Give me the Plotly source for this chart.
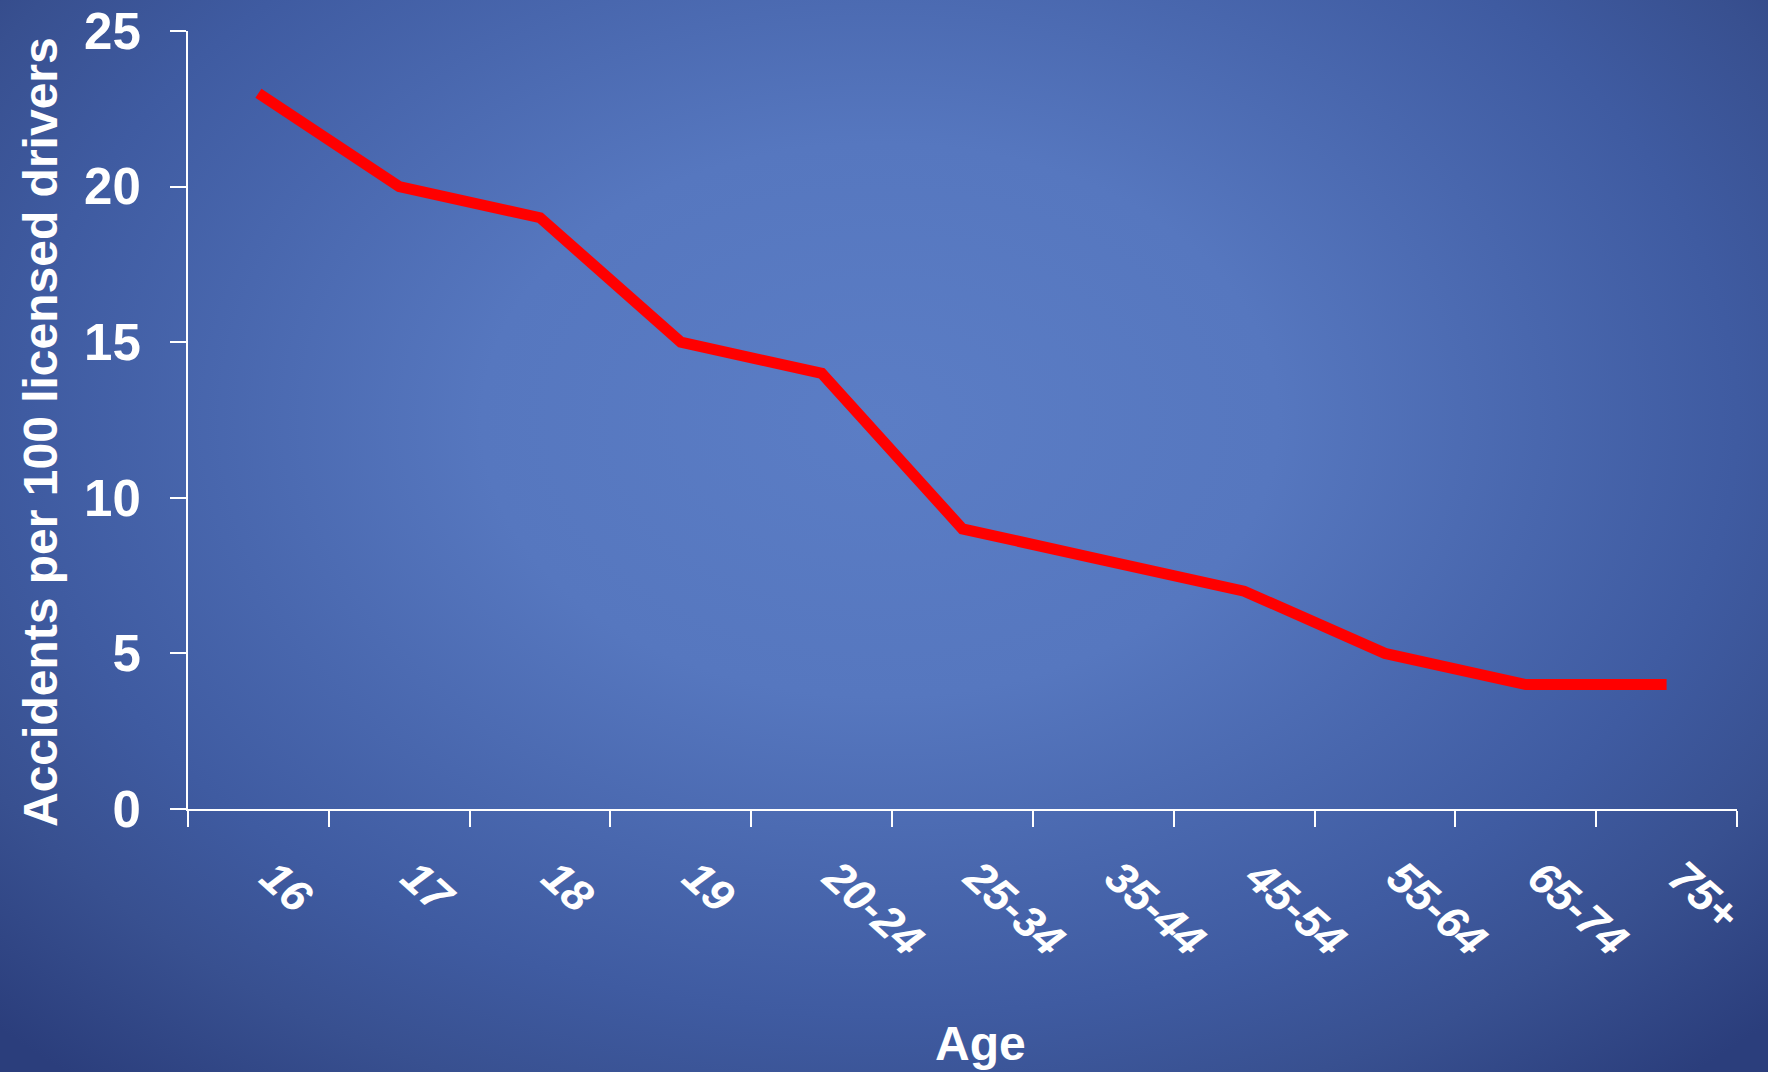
import plotly.graph_objects as go
import urllib.parse

ages = ["16", "17", "18", "19", "20-24", "25-34", "35-44", "45-54", "55-64", "65-74", "75+"]
accidents = [23, 20, 19, 15, 14, 9, 8, 7, 5, 4, 4]
y_ticks = [0, 5, 10, 15, 20, 25]

W, H = 1768, 1072
L, R, T, B = 188, 31, 31, 263
pw, ph = W - L - R, H - T - B

svg = (
    f"<svg xmlns='http://www.w3.org/2000/svg' width='{W}' height='{H}' viewBox='0 0 {W} {H}' preserveAspectRatio='none'>"
    "<defs><radialGradient id='g' gradientUnits='userSpaceOnUse' cx='0' cy='0' r='1' "
    "gradientTransform='translate(880,420) scale(1242,864)'>"
    "<stop offset='0' stop-color='#5b7dc5'/>"
    "<stop offset='0.32' stop-color='#5677bf'/>"
    "<stop offset='0.69' stop-color='#3f5ba1'/>"
    "<stop offset='0.83' stop-color='#385090'/>"
    "<stop offset='1' stop-color='#2b3e7c'/>"
    "</radialGradient></defs>"
    f"<rect width='{W}' height='{H}' fill='url(#g)'/></svg>"
)
src = "data:image/svg+xml;charset=utf-8," + urllib.parse.quote(svg)

font_family = "Arial, Liberation Sans, sans-serif"


def px_x(px):
    return (px - L) / pw


def px_y(py):
    return 1 - (py - T) / ph


fig = go.Figure()
fig.add_trace(go.Scatter(
    x=ages, y=accidents, mode="lines",
    line=dict(color="#ff0000", width=11),
    showlegend=False, hoverinfo="skip",
))

fig.update_layout(
    width=W, height=H,
    margin=dict(l=L, r=R, t=T, b=B, autoexpand=False),
    paper_bgcolor="#34498a",
    plot_bgcolor="rgba(0,0,0,0)",
    images=[dict(
        source=src, xref="paper", yref="paper",
        x=-L / pw, y=1 + T / ph, sizex=W / pw, sizey=H / ph,
        xanchor="left", yanchor="top", sizing="stretch", layer="below",
    )],
    xaxis=dict(
        type="category", range=[-0.5, 10.5], automargin=False,
        showgrid=False, zeroline=False,
        showline=True, linecolor="white", linewidth=2,
        ticks="outside", tickson="boundaries", ticklen=16, tickcolor="white", tickwidth=2,
        tickangle=42, ticklabelstandoff=22, ticklabelshift=14,
        tickfont=dict(family=font_family, size=45, color="white", weight="bold", style="italic"),
    ),
    yaxis=dict(
        range=[0, 25], tickvals=y_ticks, automargin=False,
        showgrid=False, zeroline=False,
        showline=True, linecolor="white", linewidth=2,
        ticks="outside", ticklen=16, tickcolor="white", tickwidth=2,
        ticklabelstandoff=19,
        tickfont=dict(family=font_family, size=51, color="white", weight="bold"),
    ),
    annotations=[
        dict(text="Age", xref="paper", yref="paper", x=px_x(981), y=px_y(1043),
             xanchor="center", yanchor="middle", showarrow=False,
             font=dict(family=font_family, size=48, color="white", weight="bold")),
        dict(text="Accidents per 100 licensed drivers", xref="paper", yref="paper",
             x=px_x(40), y=px_y(432), textangle=-90,
             xanchor="center", yanchor="middle", showarrow=False,
             font=dict(family=font_family, size=48, color="white", weight="bold")),
    ],
)

fig.write_html(
    "out.html",
    config={"displayModeBar": False},
    post_script="document.body.style.margin='0';document.body.style.background='#34498a';",
)
